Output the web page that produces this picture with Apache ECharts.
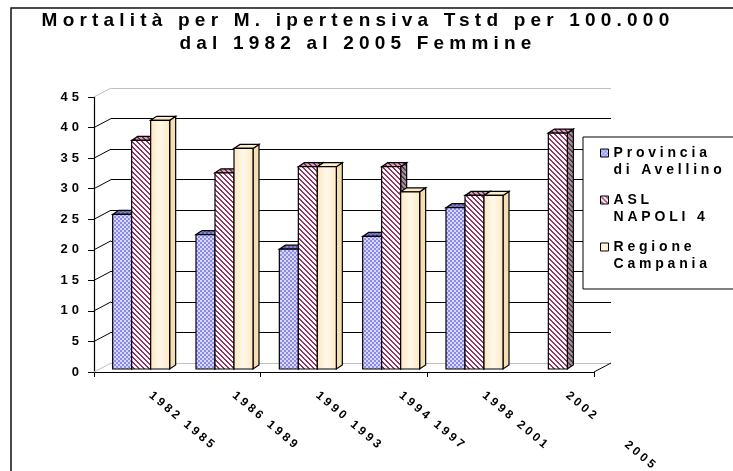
<!DOCTYPE html>
<html>
<head>
<meta charset="utf-8">
<script src="https://cdn.jsdelivr.net/npm/echarts@6/dist/echarts.min.js"></script>
<style>
  html, body { margin: 0; padding: 0; background: #fff; }
  #main { width: 733px; height: 471px; }
</style>
</head>
<body>
<div id="main"></div>
<script>
// dati
const categories = ['1982 1985', '1986 1989', '1990 1993', '1994 1997', '1998 2001', '2002      2005'];
const avellino = [25.3, 22.0, 19.6, 21.7, 26.4, null];
const napoli4 = [37.4, 32.1, 33.1, 33.1, 28.4, 38.6];
const campania = [40.7, 36.1, 33.1, 29.0, 28.4, null];
const yTicks = [0, 5, 10, 15, 20, 25, 30, 35, 40, 45];
const seriesNames = ['Provincia di Avellino', 'ASL NAPOLI 4', 'Regione Campania'];
const legendLabels = ['Provincia\ndi Avellino', 'ASL\nNAPOLI 4', 'Regione\nCampania'];

const font = 'Arial, "Liberation Sans", sans-serif';
const DX = 17, DY = -9;          // profondita' delle pareti
const BW = 19, BDX = 6, BDY = -4; // larghezza barra e lato 3d

// testo spaziato come nell'originale (spaziatura in base alla dimensione del font)
const spacingBySize = { '19': '5.2px', '14': '3.8px', '13': '4px', '12': '3px' };
const origFillText = CanvasRenderingContext2D.prototype.fillText;
CanvasRenderingContext2D.prototype.fillText = function (t, x, y, w) {
  const m = /([\d.]+)px/.exec(this.font);
  const sp = m && spacingBySize[m[1]];
  if ('letterSpacing' in this) this.letterSpacing = sp || '0px';
  return w === undefined ? origFillText.call(this, t, x, y) : origFillText.call(this, t, x, y, w);
};

function tile(w, h, draw) {
  const c = document.createElement('canvas');
  c.width = w; c.height = h;
  draw(c.getContext('2d'));
  return { image: c, repeat: 'repeat' };
}
function stripes(bg, fg) {
  return tile(5, 5, g => {
    g.fillStyle = bg; g.fillRect(0, 0, 5, 5);
    g.fillStyle = fg;
    for (let x = 0; x < 5; x++)
      for (let y = 0; y < 5; y++)
        if (((x - y) % 5 + 5) % 5 < 2) g.fillRect(x, y, 1, 1);
  });
}
function checks(a, b) {
  return tile(4, 4, g => {
    g.fillStyle = a; g.fillRect(0, 0, 4, 4);
    g.fillStyle = b; g.fillRect(0, 0, 2, 2); g.fillRect(2, 2, 2, 2);
  });
}

const blueFront = checks('#8c8ce8', '#d6d6ff');
const blueTop = checks('#5a5aa8', '#8484cc');
const blueSide = checks('#6a6ac0', '#9a9ae0');
const pinkFront = stripes('#ffffff', '#993366');
const pinkTop = stripes('#c8a8b8', '#7a2850');
const pinkSide = stripes('#a0909a', '#5a3a4a');
const yellowFront = {
  type: 'linear', x: 0, y: 0, x2: 1, y2: 0,
  colorStops: [
    { offset: 0, color: '#fde8c0' },
    { offset: 0.5, color: '#fff8ea' },
    { offset: 1, color: '#fde8c0' }
  ]
};
const yellowTop = '#fdecc8';
const yellowSide = '#f5dfb2';

function barSeries(name, values, slot, front, top, side) {
  return {
    type: 'custom',
    name: name,
    xAxisIndex: 2,
    yAxisIndex: 2,
    itemStyle: { color: front },
    data: values.map((v, i) => [i, v == null ? '-' : v]),
    renderItem(params, api) {
      const v = api.value(1);
      if (isNaN(v)) return null;
      const base = api.coord([api.value(0), 0]);
      const tp = api.coord([api.value(0), v]);
      const x = base[0] + slot * BW - BW / 2;
      const ty = tp[1], by = base[1];
      const line = { stroke: '#000', lineWidth: 1.2 };
      return {
        type: 'group',
        children: [
          { type: 'polygon', shape: { points: [[x + BW, ty], [x + BW + BDX, ty + BDY], [x + BW + BDX, by + BDY], [x + BW, by]] },
            style: Object.assign({ fill: side }, line) },
          { type: 'polygon', shape: { points: [[x, ty], [x + BDX, ty + BDY], [x + BW + BDX, ty + BDY], [x + BW, ty]] },
            style: Object.assign({ fill: top }, line) },
          { type: 'rect', shape: { x: x, y: ty, width: BW, height: by - ty },
            style: Object.assign({ fill: front }, line) }
        ]
      };
    }
  };
}

const chart = echarts.init(document.getElementById('main'));

const gridColors = yTicks.map((v, i) => (i === 0 || i === yTicks.length - 1) ? '#c0c0c0' : '#000');
const labelStyle = { fontFamily: font, fontWeight: 'bold', color: '#000' };

chart.setOption({
  animation: false,
  backgroundColor: '#fff',
  title: {
    text: 'Mortalità per M. ipertensiva Tstd per 100.000\ndal 1982 al 2005 Femmine',
    left: 358,
    top: 9,
    textAlign: 'center',
    padding: 0,
    textStyle: { fontFamily: font, fontWeight: 'bold', fontSize: 19, lineHeight: 23, color: '#000' }
  },
  legend: {
    orient: 'vertical',
    left: 583,
    top: 137,
    // quadratino in alto, allineato con la prima riga del testo
    icon: 'path://M0,0M0,34M0,4.5h8v8h-8z',
    itemWidth: 8,
    itemHeight: 34,
    itemGap: 12,
    padding: [7, 60, 16, 17],
    borderColor: '#000',
    borderWidth: 1,
    backgroundColor: '#fff',
    textStyle: Object.assign({ fontSize: 14, lineHeight: 17 }, labelStyle),
    formatter: n => legendLabels[seriesNames.indexOf(n)],
    data: seriesNames.map((n, i) => ({
      name: n,
      itemStyle: { color: [blueFront, pinkFront, yellowFront][i], borderColor: '#000', borderWidth: 1 }
    }))
  },
  graphic: [{
    type: 'rect', silent: true, z: -10,
    shape: { x: 11, y: 8, width: 760, height: 500 },
    style: { fill: 'none', stroke: '#111', lineWidth: 1.5 }
  }],
  grid: [
    { left: 111, top: 88, width: 500, height: 275 },  // parete di fondo
    { left: 94, top: 97, width: 500, height: 275 },   // assi anteriori
    { left: 99.5, top: 94, width: 500, height: 275 }, // barre
    { left: 109, top: 97, width: 500, height: 275 }   // etichette categorie
  ],
  xAxis: [
    { gridIndex: 0, type: 'category', data: categories, show: false },
    { gridIndex: 1, type: 'category', data: categories,
      axisLine: { lineStyle: { color: '#000', width: 1.2 } },
      axisTick: { show: true, length: 5, lineStyle: { color: '#000' } },
      axisLabel: { show: false }, splitLine: { show: false } },
    { gridIndex: 2, type: 'category', data: categories, show: false },
    { gridIndex: 3, type: 'category', data: categories,
      axisLine: { show: false }, axisTick: { show: false },
      axisLabel: Object.assign({ rotate: -40, margin: 22, interval: 0, fontSize: 12 }, labelStyle) }
  ],
  yAxis: [
    { gridIndex: 0, type: 'value', min: yTicks[0], max: yTicks[yTicks.length - 1], interval: 5,
      axisLine: { show: false }, axisTick: { show: false }, axisLabel: { show: false },
      splitLine: { show: true, lineStyle: { color: gridColors, width: 1 } } },
    { gridIndex: 1, type: 'value', min: yTicks[0], max: yTicks[yTicks.length - 1], interval: 5,
      axisLine: { show: true, lineStyle: { color: '#000', width: 1.2 } },
      axisTick: { show: true, length: 6, lineStyle: { color: '#000' } },
      axisLabel: Object.assign({ margin: 11, fontSize: 13 }, labelStyle),
      splitLine: { show: false } },
    { gridIndex: 2, type: 'value', min: yTicks[0], max: yTicks[yTicks.length - 1], show: false },
    { gridIndex: 3, type: 'value', min: yTicks[0], max: yTicks[yTicks.length - 1], show: false }
  ],
  series: [
    {
      type: 'custom',
      name: 'pareti',
      xAxisIndex: 1,
      yAxisIndex: 1,
      silent: true,
      data: yTicks.map(v => [0, v]),
      renderItem(params, api) {
        const v = api.value(1);
        const y = api.coord([0, v])[1];
        const cs = params.coordSys;
        const edge = v === yTicks[0] || v === yTicks[yTicks.length - 1];
        const children = [{
          type: 'line', shape: { x1: cs.x, y1: y, x2: cs.x + DX, y2: y + DY },
          style: { stroke: edge ? '#c0c0c0' : '#000', lineWidth: 1 }
        }];
        if (v === yTicks[0]) {
          children.push({
            type: 'line', shape: { x1: cs.x + cs.width, y1: y, x2: cs.x + cs.width + DX, y2: y + DY },
            style: { stroke: '#000', lineWidth: 1 }
          });
        }
        return { type: 'group', children: children };
      }
    },
    barSeries(seriesNames[0], avellino, -1, blueFront, blueTop, blueSide),
    barSeries(seriesNames[1], napoli4, 0, pinkFront, pinkTop, pinkSide),
    barSeries(seriesNames[2], campania, 1, yellowFront, yellowTop, yellowSide)
  ]
});
</script>
</body>
</html>
